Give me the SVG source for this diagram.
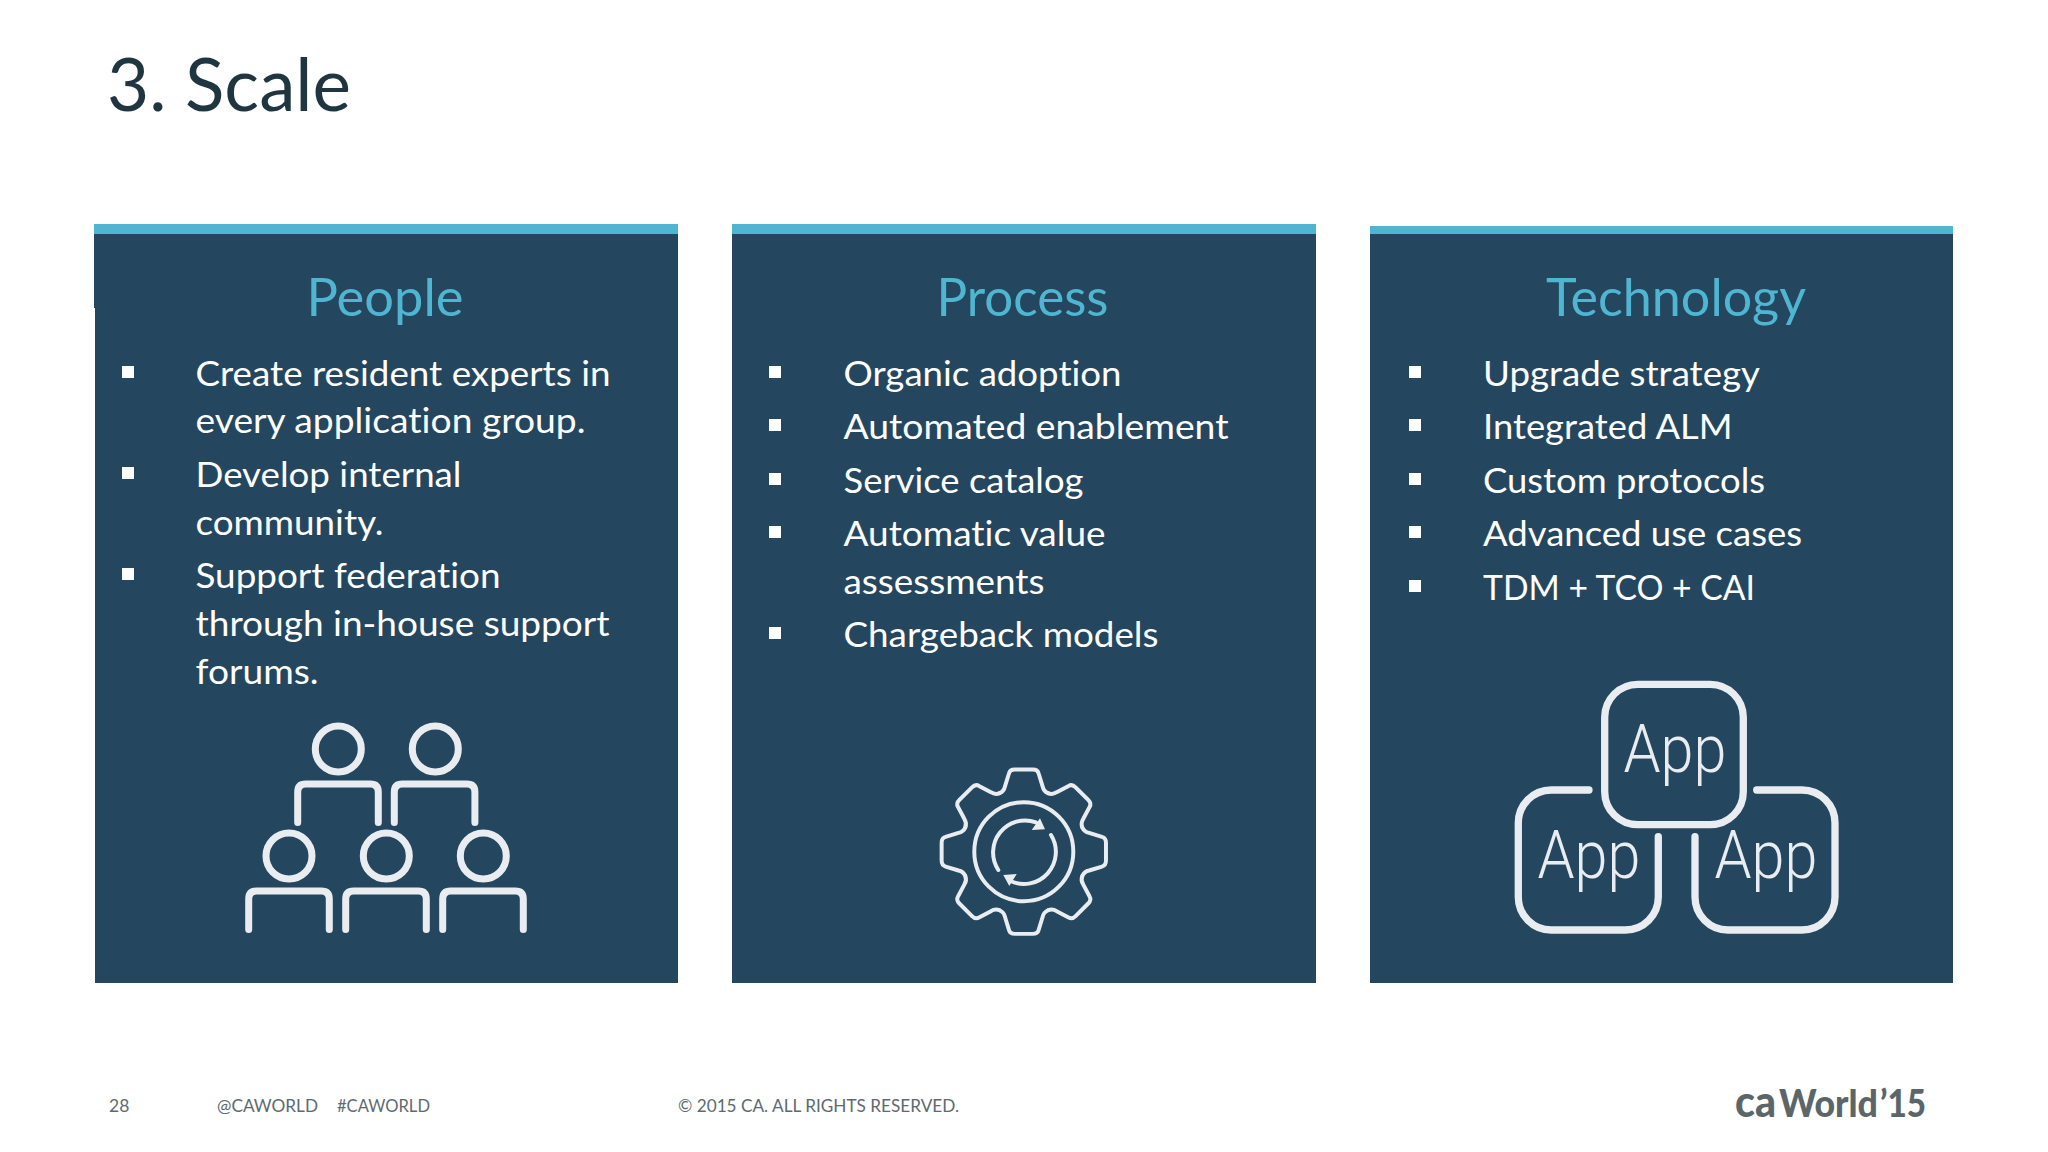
<svg xmlns="http://www.w3.org/2000/svg" xmlns:xlink="http://www.w3.org/1999/xlink" width="2048" height="1152" viewBox="0 0 2048 1152">
<style>
text{font-family:Lato,"Open Sans",sans-serif;font-variant-ligatures:none}
.panel{fill:#24475f}
.bar{fill:#4fb5d0}
.h{font-size:52px;fill:#4fb5d0;text-anchor:middle}
.b{font-size:35px;fill:#fff}
.bul{fill:#fff}
.foot{font-size:17.5px;fill:#5d6b70}
.ic{fill:none;stroke:#e9edf1;stroke-linecap:round;stroke-linejoin:round}
.app{font-family:Roboto,sans-serif;font-weight:300;font-size:66px;fill:#e9edf1;text-anchor:middle}
.logo{fill:#5a6669;font-weight:900}
</style>
<defs>
<path id="sh" d="M0 38.500V8Q0 0 8 0H72.600Q80.600 0 80.600 8V38.500"/>
<path id="tooth" d="M-24.500-59.100Q-20-61-19-66L-15-79Q-14-83-9-83H9Q14-83 15-79L19-66Q20-61 24.500-59.100"/>
</defs>
<rect width="2048" height="1152" fill="#fff"/>
<text id="title" x="107" y="111" font-size="73" fill="#1f3641" textLength="244" lengthAdjust="spacingAndGlyphs">3. Scale</text>

<g id="people">
<rect class="panel" x="95" y="230" width="583" height="753"/>
<rect class="panel" x="94" y="230" width="2" height="78"/>
<rect class="bar" x="94" y="224" width="584" height="10"/>
<text class="h" x="385" y="316" textLength="157" lengthAdjust="spacingAndGlyphs">People</text>
<rect class="bul" x="122" y="366" width="12" height="12"/>
<rect class="bul" x="122" y="467" width="12" height="12"/>
<rect class="bul" x="122" y="568" width="12" height="12"/>
<g class="b">
<text x="195.500" y="385.500" textLength="415" lengthAdjust="spacingAndGlyphs">Create resident experts in</text>
<text x="195.500" y="433" textLength="390" lengthAdjust="spacingAndGlyphs">every application group.</text>
<text x="195.500" y="487" textLength="266" lengthAdjust="spacingAndGlyphs">Develop internal</text>
<text x="195.500" y="535" textLength="188" lengthAdjust="spacingAndGlyphs">community.</text>
<text x="195.500" y="588" textLength="305" lengthAdjust="spacingAndGlyphs">Support federation</text>
<text x="195.500" y="636" textLength="414" lengthAdjust="spacingAndGlyphs">through in-house support</text>
<text x="195.500" y="683.500" textLength="123" lengthAdjust="spacingAndGlyphs">forums.</text>
</g>
<g class="ic" stroke-width="7">
<circle cx="338.300" cy="749" r="23"/><circle cx="435.300" cy="749" r="23"/>
<circle cx="289" cy="856" r="23"/><circle cx="386.300" cy="856" r="23"/><circle cx="483.300" cy="856" r="23"/>
<use xlink:href="#sh" href="#sh" x="297.700" y="784"/><use xlink:href="#sh" href="#sh" x="394.300" y="784"/>
<use xlink:href="#sh" href="#sh" x="248.700" y="891"/><use xlink:href="#sh" href="#sh" x="345.700" y="891"/><use xlink:href="#sh" href="#sh" x="442.700" y="891"/>
</g>
</g>

<g id="process">
<rect class="panel" x="732" y="230" width="584" height="753"/>
<rect class="bar" x="732" y="224" width="584" height="10"/>
<text class="h" x="1022.500" y="316" textLength="172" lengthAdjust="spacingAndGlyphs">Process</text>
<rect class="bul" x="769" y="366" width="12" height="12"/>
<rect class="bul" x="769" y="419" width="12" height="12"/>
<rect class="bul" x="769" y="473" width="12" height="12"/>
<rect class="bul" x="769" y="526" width="12" height="12"/>
<rect class="bul" x="769" y="627" width="12" height="12"/>
<g class="b">
<text x="843.500" y="385.500" textLength="278" lengthAdjust="spacingAndGlyphs">Organic adoption</text>
<text x="843.500" y="439" textLength="385" lengthAdjust="spacingAndGlyphs">Automated enablement</text>
<text x="843.500" y="493" textLength="240" lengthAdjust="spacingAndGlyphs">Service catalog</text>
<text x="843.500" y="546" textLength="262" lengthAdjust="spacingAndGlyphs">Automatic value</text>
<text x="843.500" y="594" textLength="201" lengthAdjust="spacingAndGlyphs">assessments</text>
<text x="843.500" y="647" textLength="315" lengthAdjust="spacingAndGlyphs">Chargeback models</text>
</g>
<g class="ic" stroke-width="4">
<g transform="translate(1023.800 851.700) scale(.99)">
<use xlink:href="#tooth" href="#tooth"/><use xlink:href="#tooth" href="#tooth" transform="rotate(45)"/><use xlink:href="#tooth" href="#tooth" transform="rotate(90)"/><use xlink:href="#tooth" href="#tooth" transform="rotate(135)"/><use xlink:href="#tooth" href="#tooth" transform="rotate(180)"/><use xlink:href="#tooth" href="#tooth" transform="rotate(225)"/><use xlink:href="#tooth" href="#tooth" transform="rotate(270)"/><use xlink:href="#tooth" href="#tooth" transform="rotate(315)"/>
<circle r="50"/>
</g>
<path d="M998.300 870A32 32 0 0 1 1036 822.400M1051 835A32 32 0 0 1 1010 880.800"/>
</g>
<path fill="#e9edf1" d="M1045 829.300L1031.700 830L1040 818.300ZM1003.300 875L1016.700 874L1009.300 886Z"/>
</g>

<g id="technology">
<rect class="panel" x="1370" y="230" width="583" height="753"/>
<rect class="bar" x="1370" y="226" width="583" height="8"/>
<text class="h" x="1676" y="316" textLength="260" lengthAdjust="spacingAndGlyphs">Technology</text>
<rect class="bul" x="1409" y="366" width="12" height="12"/>
<rect class="bul" x="1409" y="419" width="12" height="12"/>
<rect class="bul" x="1409" y="473" width="12" height="12"/>
<rect class="bul" x="1409" y="526" width="12" height="12"/>
<rect class="bul" x="1409" y="580" width="12" height="12"/>
<g class="b">
<text x="1483" y="385.500" textLength="277" lengthAdjust="spacingAndGlyphs">Upgrade strategy</text>
<text x="1483" y="439" textLength="249.500" lengthAdjust="spacingAndGlyphs">Integrated ALM</text>
<text x="1483" y="493" textLength="282" lengthAdjust="spacingAndGlyphs">Custom protocols</text>
<text x="1483" y="546" textLength="319" lengthAdjust="spacingAndGlyphs">Advanced use cases</text>
<text x="1483" y="600" textLength="272" lengthAdjust="spacingAndGlyphs">TDM + TCO + CAI</text>
</g>
<g class="ic" stroke-width="7.300">
<rect x="1604.700" y="684.300" width="138.600" height="140.400" rx="33"/>
<path d="M1589 790H1551.300A33 33 0 0 0 1518.300 823V897A33 33 0 0 0 1551.300 930H1625.300A33 33 0 0 0 1658.300 897V836.700"/>
<path d="M1756.700 790H1802A33 33 0 0 1 1835 823V897A33 33 0 0 1 1802 930H1728A33 33 0 0 1 1695 897V836.700"/>
</g>
<text class="app" x="1675" y="771.700" textLength="103" lengthAdjust="spacingAndGlyphs">App</text>
<text class="app" x="1589" y="878" textLength="103" lengthAdjust="spacingAndGlyphs">App</text>
<text class="app" x="1766" y="878" textLength="103" lengthAdjust="spacingAndGlyphs">App</text>
</g>

<g id="footer">
<text class="foot" x="109" y="1112">28</text>
<text class="foot" x="217" y="1112" textLength="101" lengthAdjust="spacingAndGlyphs">@CAWORLD</text>
<text class="foot" x="337" y="1112" textLength="93" lengthAdjust="spacingAndGlyphs">#CAWORLD</text>
<text class="foot" x="678" y="1112" textLength="281" lengthAdjust="spacingAndGlyphs">© 2015 CA. ALL RIGHTS RESERVED.</text>
</g>
<g id="logo">
<text class="logo" x="1735" y="1117" font-size="44" textLength="41" lengthAdjust="spacingAndGlyphs">ca</text>
<text class="logo" x="1779" y="1117" font-size="37" textLength="99" lengthAdjust="spacingAndGlyphs">World</text>
<text class="logo" x="1880" y="1117" font-size="37" textLength="46" lengthAdjust="spacingAndGlyphs">’15</text>
</g>
</svg>
